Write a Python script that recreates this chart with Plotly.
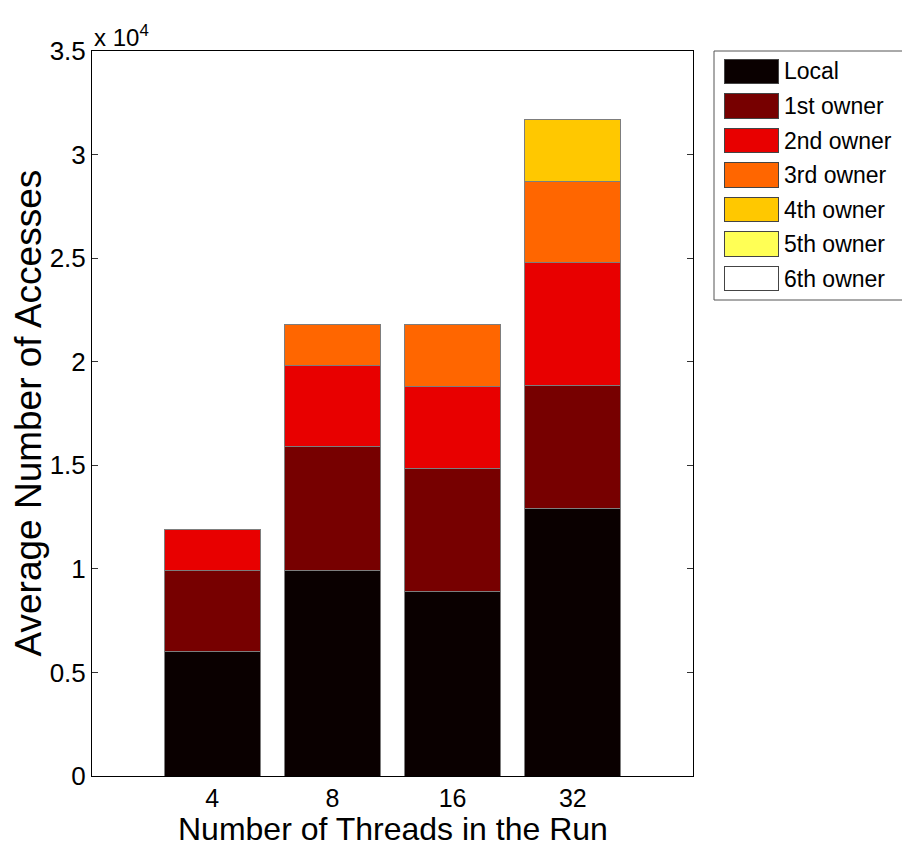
import plotly.graph_objects as go

# Thread counts of each run and the owner level that served each access
threads = ["4", "8", "16", "32"]
series_names = ["Local", "1st owner", "2nd owner", "3rd owner",
                "4th owner", "5th owner", "6th owner"]
local = [6000, 9900, 8900, 12900]
owner1 = [3900, 6000, 5950, 5950]
owner2 = [2000, 3900, 3950, 5950]
owner3 = [0, 2000, 3000, 3900]
owner4 = [0, 0, 0, 3000]
owner5 = [0, 0, 0, 0]
owner6 = [0, 0, 0, 0]
series_values = [local, owner1, owner2, owner3, owner4, owner5, owner6]
colors = ["#0a0000", "#770000", "#e80000", "#ff6600",
          "#ffc800", "#ffff55", "#ffffff"]

ytick_vals = [0, 5000, 10000, 15000, 20000, 25000, 30000, 35000]
ytick_text = ["0", "0.5", "1", "1.5", "2", "2.5", "3", "3.5"]

FONT = "Liberation Sans, Arial, Helvetica, sans-serif"
EDGE = "rgb(125,125,125)"

fig = go.Figure()

# stacked bars
for name, vals, col in zip(series_names, series_values, colors):
    fig.add_trace(go.Bar(
        x=threads, y=vals, name=name, width=0.8,
        marker=dict(color=col, line=dict(color=EDGE, width=1)),
        showlegend=False, xaxis="x", yaxis="y",
    ))

# key: one swatch per series on its own small axis
for i, (name, col) in enumerate(zip(series_names, colors)):
    fig.add_trace(go.Bar(
        y=[i], x=[54], base=[10], orientation="h", width=0.72,
        marker=dict(color=col, line=dict(color="#444444", width=1)),
        showlegend=False, xaxis="x2", yaxis="y2", hoverinfo="skip",
    ))
    fig.add_annotation(
        x=68, y=i, xref="x2", yref="y2", text=name, showarrow=False,
        xanchor="left", yanchor="middle",
        font=dict(family=FONT, size=23, color="black"),
    )

main_right = (693 - 92) / 810.0
fig.update_layout(
    width=902, height=850,
    margin=dict(l=92, r=0, t=51, b=74),
    paper_bgcolor="white", plot_bgcolor="white",
    barmode="stack",
    font=dict(family=FONT, color="black"),
    xaxis=dict(
        domain=[0, main_right], type="category", range=[-1, 4],
        showline=True, linecolor="black", linewidth=1, mirror=True,
        ticks="", showgrid=False, zeroline=False,
        tickfont=dict(family=FONT, size=25, color="black"),
        layer="below traces",
    ),
    yaxis=dict(
        range=[0, 35000], tickvals=ytick_vals, ticktext=ytick_text,
        showline=True, linecolor="black", linewidth=1, mirror="ticks",
        ticks="inside", ticklen=6, tickcolor="#333333",
        showgrid=False, zeroline=False,
        tickfont=dict(family=FONT, size=26, color="black"),
        layer="below traces",
    ),
    xaxis2=dict(
        domain=[(714 - 92) / 810.0, 1.0], range=[0, 188],
        visible=False, fixedrange=True,
    ),
    yaxis2=dict(
        domain=[(776 - 300) / 725.0, 1.0], range=[6.623, -0.594],
        visible=False, fixedrange=True, anchor="x2",
    ),
    shapes=[dict(
        type="rect", xref="paper", yref="paper",
        x0=(714 - 92) / 810.0, x1=1.02,
        y0=(776 - 300) / 725.0, y1=1.0,
        line=dict(color="#555555", width=1), fillcolor="rgba(0,0,0,0)",
        layer="below",
    )],
)

# axis titles and the common exponent of the y ticks
fig.add_annotation(
    x=main_right / 2, y=-0.073, xref="paper", yref="paper",
    text="Number of Threads in the Run", showarrow=False,
    xanchor="center", yanchor="middle",
    font=dict(family=FONT, size=32, color="black"),
)
fig.add_annotation(
    x=-0.079, y=0.5, xref="paper", yref="paper",
    text="Average Number of Accesses", showarrow=False, textangle=-90,
    xanchor="center", yanchor="middle",
    font=dict(family=FONT, size=37, color="black"),
)
fig.add_annotation(
    x=0.0, y=1.0, xref="paper", yref="paper",
    text="x 10<sup>4</sup>", showarrow=False,
    xanchor="left", yanchor="bottom", yshift=-2,
    font=dict(family=FONT, size=24, color="black"),
)

fig.write_html("out.html")
